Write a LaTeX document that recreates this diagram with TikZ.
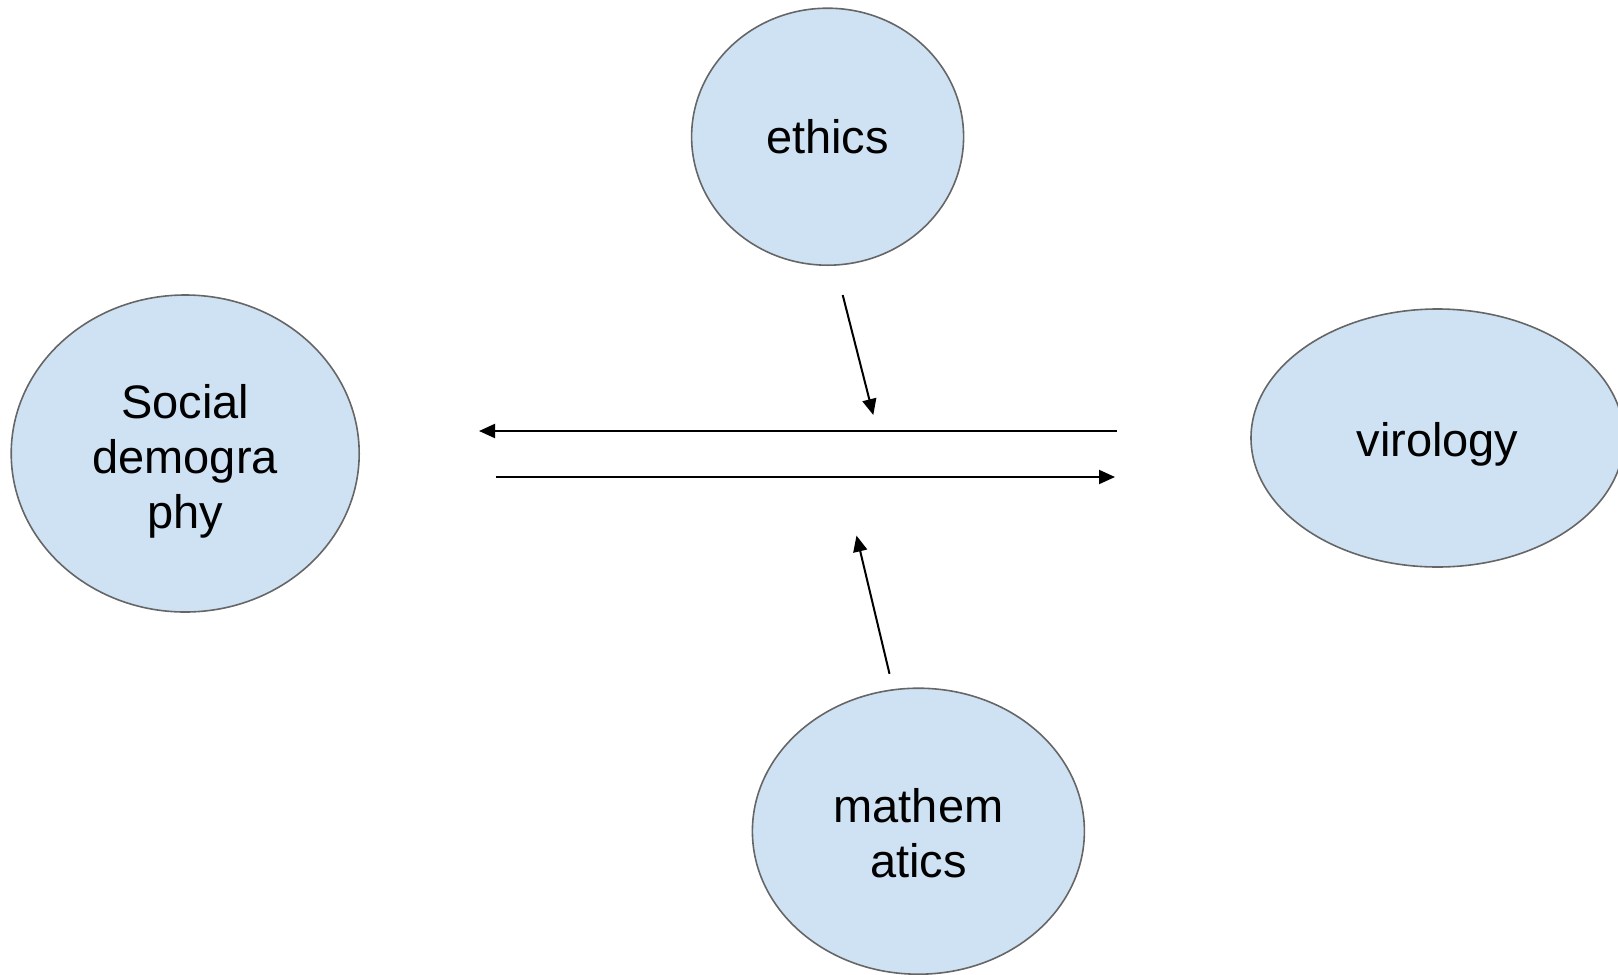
\documentclass[tikz,border=0pt]{standalone}
\usepackage{fontspec}
\setmainfont{Liberation Sans}
\usetikzlibrary{shapes.geometric,arrows.meta}
\definecolor{bubble}{HTML}{CFE2F3}
\definecolor{rim}{HTML}{666666}
\begin{document}
\begin{tikzpicture}[x=1pt,y=-1pt,
  bub/.style={ellipse,draw=rim,line width=1.6pt,fill=bubble,inner sep=0pt},
  txt/.style={align=center,font=\fontsize{47}{55}\selectfont},
  conn/.style={line width=2pt,-{Triangle[length=16pt,width=14pt]}}]
\useasboundingbox (0,0) rectangle (1618,975);
\node[bub,minimum width=272pt,minimum height=257pt,
  label={[txt]center:ethics}] (eth) at (827.6,136.7) {};
\node[bub,minimum width=348pt,minimum height=317pt,
  label={[txt,yshift=-8pt]center:{Social\\demogra\\phy}}] (soc) at (185.2,453.5) {};
\node[bub,minimum width=373pt,minimum height=258pt,
  label={[txt,yshift=-6pt]center:virology}] (vir) at (1437.5,438) {};
\node[bub,minimum width=332pt,minimum height=286pt,
  label={[txt,yshift=-2pt]center:{mathem\\atics}}] (mat) at (918.4,831.2) {};
\coordinate (h1s) at (1116.6,431);
\coordinate (h1e) at (479,431);
\coordinate (h2s) at (495.7,477);
\coordinate (h2e) at (1115,477);
\coordinate (es) at (842.7,295);
\coordinate (ee) at (873.3,415);
\coordinate (ms) at (889.5,673.8);
\coordinate (me) at (856.5,535.6);
\draw[conn] (h1s) -- (h1e);
\draw[conn] (h2s) -- (h2e);
\draw[conn] (es) -- (ee);
\draw[conn] (ms) -- (me);
\end{tikzpicture}
\end{document}
